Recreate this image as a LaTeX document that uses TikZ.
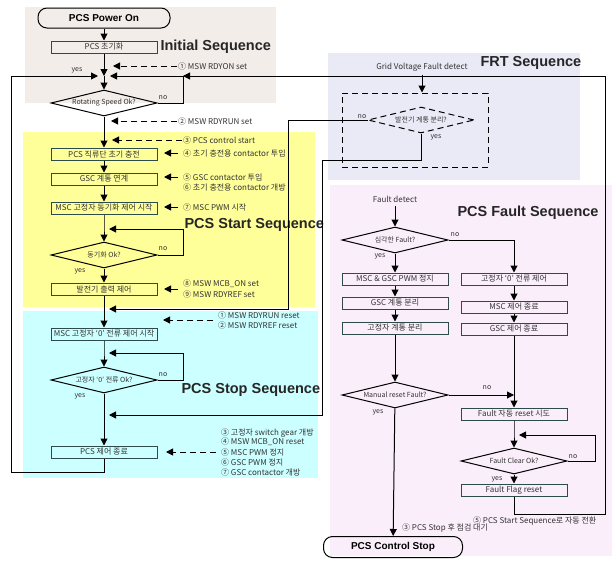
\documentclass[tikz,border=0pt]{standalone}
\usepackage{fontspec}
\setmainfont{Liberation Sans}
\newfontfamily\kr{Noto Sans CJK KR}
\usetikzlibrary{shapes,arrows.meta,calc}

\definecolor{initbg}{RGB}{243,237,234}
\definecolor{startbg}{RGB}{255,255,153}
\definecolor{stopbg}{RGB}{204,255,255}
\definecolor{frtbg}{RGB}{234,234,247}
\definecolor{faultbg}{RGB}{250,238,250}
\definecolor{boxline}{RGB}{45,75,75}

\begin{document}
\begin{tikzpicture}[x=1pt,y=-1pt,
  every node/.style={font=\kr\fontsize{8}{9}\selectfont,text=black!80},
  box/.style={draw=boxline,line width=1pt,minimum width=106pt,minimum height=12pt,inner sep=0pt},
  term/.style={draw,line width=1pt,rounded corners=9pt,minimum width=132pt,minimum height=20pt,
    font=\normalfont\bfseries\fontsize{10}{11}\selectfont,text=black},
  dec/.style={draw,line width=1pt,diamond,aspect=4,minimum width=106pt,minimum height=26pt,inner sep=0pt,
    font=\kr\fontsize{7}{8}\selectfont},
  seqtitle/.style={anchor=west,font=\normalfont\bfseries\fontsize{14.5}{16}\selectfont,text=black!85},
  lbl/.style={anchor=west,inner sep=1pt,font=\kr\fontsize{8}{9}\selectfont},
  yn/.style={inner sep=1pt,font=\kr\fontsize{7}{8}\selectfont},
  flow/.style={-{Triangle[length=7pt,width=7pt]},line width=1pt},
  dflow/.style={flow,dash pattern=on 6pt off 4pt}]
\useasboundingbox (0,0) rectangle (616,562);

\fill[initbg] (25,7) rectangle (276,103);
\fill[startbg] (23,132) rectangle (315,307);
\fill[stopbg] (23,311) rectangle (318,478);
\fill[frtbg] (328,53) rectangle (580,180);
\fill[faultbg] (330,185) rectangle (612,556);

% main column
\node[term] (on) at (104,18) {PCS Power On};
\node[box] (init) at (104,47) {PCS 초기화};
\node[seqtitle] (t1) at (157,47) {Initial Sequence};
\coordinate (m1) at (104,76);
\coordinate (r1) at (183,76);
\node[dec] (rot) at (104,103) {Rotating Speed Ok?};
\node[box] (dc) at (104,154) {PCS 직류단 초기 충전};
\node[box] (gsc) at (104,179) {GSC 계통 연계};
\node[box] (msc) at (104,208) {MSC 고정자 동기화 제어 시작};
\coordinate (m3) at (104,229);
\node[dec] (sync) at (104,255) {동기화 Ok?};
\node[box] (gen) at (104,289) {발전기 출력 제어};
\node[seqtitle] (t2) at (181,225) {PCS Start Sequence};
\coordinate (m4) at (104,309);
\node[box] (zero) at (104,334) {MSC 고정자 ‘0’ 전류 제어 시작};
\coordinate (m5) at (104,353);
\node[dec] (zok) at (104,380) {고정자 ‘0’ 전류 Ok?};
\node[seqtitle] (t3) at (178,390) {PCS Stop Sequence};
\coordinate (m6) at (104,415);
\node[box] (end) at (104,452) {PCS 제어 종료};
\coordinate (m7) at (104,472);

\node[yn] (y0) at (77,70) {yes};
\node[yn] (n1) at (163,98) {no};
\node[yn] (n2) at (163,249) {no};
\node[yn] (y2) at (80,271) {yes};
\node[yn] (n3) at (163,375) {no};
\node[yn] (y3) at (80,396) {yes};

\draw[flow] (on) -- (init);
\draw[flow] (init) -- (m1);
\draw[flow] (m1) -- (rot);
\draw[flow] (rot.east) -| (r1) -- ([xshift=6pt]m1);
\draw[flow] (end) -- (m7) -- (11,472) -- (11,76) -- ([xshift=-6pt]m1);
\draw[flow] (rot) -- (dc);
\draw[flow] (dc) -- (gsc);
\draw[flow] (gsc) -- (msc);
\draw[flow] (msc) -- (m3) -- (sync);
\draw[flow] (sync.east) -| (183,229) -- ([xshift=5pt]m3);
\draw[flow] (sync) -- (gen);
\draw[flow] (gen) -- (zero);
\draw[flow] (zero) -- (m5) -- (zok);
\draw[flow] (zok.east) -| (183,353) -- ([xshift=5pt]m5);
\draw[flow] (zok) -- (end);

% side notes
\node[lbl] (l1) at (177,66) {① MSW RDYON set};
\node[lbl] (l2) at (177,121) {② MSW RDYRUN set};
\node[lbl] (l3) at (182,140) {③ PCS control start};
\node[lbl] (l4) at (182,153) {④ 초기 충전용 contactor 투입};
\node[lbl] (l5) at (182,177) {⑤ GSC contactor 투입};
\node[lbl] (l6) at (182,187) {⑥ 초기 충전용 contactor 개방};
\node[lbl] (l7) at (182,207) {⑦ MSC PWM 시작};
\node[lbl] (l8) at (182,284) {⑧ MSW MCB\_ON set};
\node[lbl] (l9) at (182,294) {⑨ MSW RDYREF set};
\node[lbl] (s1) at (217,315) {① MSW RDYRUN reset};
\node[lbl] (s2) at (217,325) {② MSW RDYREF reset};
\node[lbl] (s3) at (220,433) {③ 고정자 switch gear 개방};
\node[lbl] (s4) at (220,442) {④ MSW MCB\_ON reset};
\node[lbl] (s5) at (220,452) {⑤ MSC PWM 정지};
\node[lbl] (s6) at (220,462) {⑥ GSC PWM 정지};
\node[lbl] (s7) at (220,472) {⑦ GSC contactor 개방};

\draw[dflow] (l1.west) -- ++(-64,0);
\draw[dflow] (l2.west) -- ++(-66,0);
\draw[dflow] (l3.west) -- ++(-70,0);
\draw[flow] ([xshift=-4pt]l4.west) -- ++(-14,0);
\draw[flow] ([xshift=-4pt]l5.west) -- ++(-14,0);
\draw[flow] ([xshift=-4pt]l7.west) -- ++(-14,0);
\draw[flow] ([xshift=-4pt]$(l8.west)!.5!(l9.west)$) -- ++(-14,0);
\draw[dflow] ([xshift=-4pt]$(s1.west)!.5!(s2.west)$) -- ++(-50,0);
\draw[dflow] ([xshift=-4pt]s5.west) -- ++(-50,0);

% FRT
\node (gvf) at (422,67) {Grid Voltage Fault detect};
\node[seqtitle] (t4) at (477,63) {FRT Sequence};
\node[draw,line width=1pt,dash pattern=on 6pt off 4pt,minimum width=146pt,minimum height=74pt] (frtbox) at (415,130) {};
\node[dec,dash pattern=on 6pt off 4pt] (frt) at (421,120) {발전기 계통 분리?};
\node[yn] (n4) at (362,117) {no};
\node[yn] (y4) at (436,137) {yes};
\draw[flow] (gvf) -- (gvf |- frtbox.north);
\draw[flow] (frt.west) -- (288,120) |- ([xshift=5pt]m4);
\draw[flow] (frt.south) -- (421,160) -| (322,415) -- ([xshift=5pt]m6);

% fault
\node (fd) at (395,199) {Fault detect};
\node[seqtitle] (t5) at (454,213) {PCS Fault Sequence};
\node[dec] (sev) at (395,240) {심각한 Fault?};
\node[box] (pwm) at (395,279) {MSC \& GSC PWM 정지};
\node[box] (gsep) at (395,303) {GSC 계통 분리};
\node[box] (ssep) at (395,328) {고정자 계통 분리};
\node[dec] (man) at (395,395) {Manual reset Fault?};
\node[box] (zc) at (514,279) {고정자 ‘0’ 전류 제어};
\node[box] (mscend) at (514,307) {MSC 제어 종료};
\node[box] (gscend) at (514,329) {GSC 제어 종료};
\node[box] (auto) at (514,414) {Fault 자동 reset 시도};
\coordinate (m8) at (514,435);
\node[dec] (clr) at (514,461) {Fault Clear Ok?};
\node[box] (flag) at (514,490) {Fault Flag reset};
\node[term,minimum width=139pt,minimum height=21pt] (stop) at (393,547) {PCS Control Stop};
\node[yn] (n5) at (455,235) {no};
\node[yn] (y5) at (380,256) {yes};
\node[yn] (n6) at (487,388) {no};
\node[yn] (y6) at (378,412) {yes};
\node[yn] (n7) at (573,457) {no};
\node[yn] (y7) at (497,479) {yes};
\node[lbl] (f1) at (472,521) {⑤ PCS Start Sequence로 자동 전환};
\node[lbl] (f2) at (401,528) {③ PCS Stop 후 점검 대기};

\draw[flow] (fd) -- (sev);
\draw[flow] (sev) -- (pwm);
\draw[flow] (pwm) -- (gsep);
\draw[flow] (gsep) -- (ssep);
\draw[flow] (ssep) -- (man);
\draw[flow] (man) -- (stop);
\draw[flow] (sev.east) -| (zc);
\draw[flow] (zc) -- (mscend);
\draw[flow] (mscend) -- (gscend);
\draw[flow] (gscend) -- (auto);
\draw[flow] (man.east) -- (man.east -| auto);
\draw[flow] (auto) -- (m8) -- (clr);
\draw[flow] (clr.east) -| (595,435) -- ([xshift=5pt]m8);
\draw[flow] (clr) -- (flag);
\draw[flow] (flag) -- (514,514) -| (605,76) -- (r1);
\end{tikzpicture}
\end{document}
